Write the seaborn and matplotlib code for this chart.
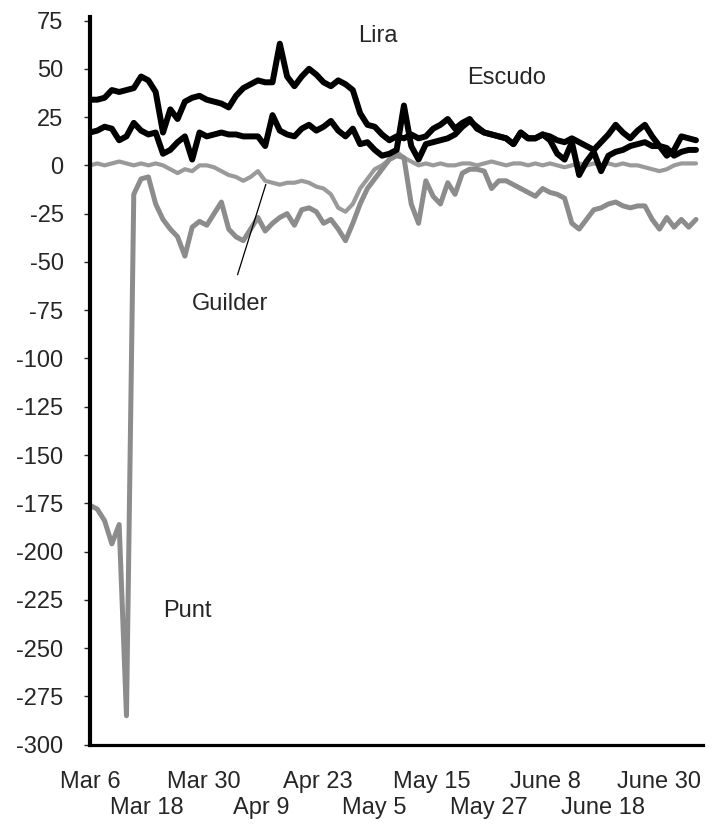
import numpy as np
import pandas as pd
import seaborn as sns
import matplotlib
import matplotlib.pyplot as plt

matplotlib.use('Agg')

# trading-day labels, roughly one every 8 days, in two staggered rows
tick_labels = ['Mar 6', 'Mar 18', 'Mar 30', 'Apr 9', 'Apr 23', 'May 5',
               'May 15', 'May 27', 'June 8', 'June 18', 'June 30']

lira = [34, 34, 35, 39, 38, 39, 40, 46, 44, 38, 17, 29, 24, 33, 35, 36, 34, 33, 32, 30,
        36, 40, 42, 44, 43, 43, 63, 46, 41, 46, 50, 47, 43, 41, 44, 42, 39, 27, 21, 20,
        16, 13, 15, 14, 16, 14, 15, 19, 21, 24, 19, 22, 24, 19, 17, 16, 15, 14, 11, 17,
        14, 14, 16, 15, 13, 12, 14, 12, 10, 8, 12, 16, 21, 17, 14, 18, 21, 15, 10, 5,
        8, 15, 14, 13]

escudo = [17, 18, 20, 19, 13, 15, 22, 18, 16, 17, 6, 8, 12, 15, 3, 17, 15, 16, 17, 16,
          16, 15, 15, 15, 10, 26, 18, 16, 15, 19, 21, 18, 20, 23, 18, 15, 19, 11, 12, 8,
          5, 6, 8, 31, 10, 3, 11, 12, 13, 14, 16, 20, 23, 20, 17, 16, 15, 14, 11, 17,
          14, 14, 16, 13, 6, 3, 12, -5, 2, 7, -3, 5, 7, 8, 10, 11, 12, 10, 10, 9,
          5, 7, 8, 8]

guilder = [0, 1, 0, 1, 2, 1, 0, 1, 0, 1, 0, -2, -4, -2, -3, 0, 0, -1, -3, -5,
           -6, -8, -6, -3, -8, -9, -10, -9, -9, -8, -9, -11, -12, -15, -22, -24, -20, -12, -7, -2,
           0, 3, 7, 4, 2, 0, 1, 0, 1, 0, 0, 1, 1, 0, 1, 2, 1, 0, 1, 1,
           0, 1, 0, 1, 0, -1, 0, 1, 0, 1, 0, 1, 0, 1, 0, 0, -1, -2, -3, -2,
           0, 1, 1, 1]

punt = [-176, -178, -184, -196, -186, -285, -15, -7, -6, -20, -28, -33, -37, -47, -32, -29, -31, -25, -19, -33,
        -37, -39, -33, -27, -34, -30, -27, -25, -31, -23, -22, -24, -30, -28, -33, -39, -30, -20, -12, -7,
        -2, 3, 5, 4, -20, -30, -8, -16, -20, -9, -15, -4, -2, -2, -3, -12, -8, -8, -10, -12,
        -14, -16, -12, -14, -15, -17, -30, -33, -28, -23, -22, -20, -19, -21, -22, -21, -21, -28, -33, -27,
        -32, -28, -32, -28]

day = np.arange(len(lira))

sns.set_style('white')
plt.rcParams['font.family'] = ['Liberation Sans', 'DejaVu Sans']
plt.rcParams['axes.unicode_minus'] = False

fig = plt.figure(figsize=(7.14, 8.33), dpi=100)
ax = fig.add_axes([0.126, 0.106, 0.859, 0.874])

# gray series first so the black ones sit on top
sns.lineplot(x=day, y=guilder, color='#9a9a9a', linewidth=3.0, ax=ax)
sns.lineplot(x=day, y=punt, color='#8c8c8c', linewidth=3.6, ax=ax)
sns.lineplot(x=day, y=escudo, color='black', linewidth=4.3, ax=ax)
sns.lineplot(x=day, y=lira, color='black', linewidth=4.3, ax=ax)

ax.set_xlim(0, 84)
ax.set_ylim(-300, 77)
ax.set_yticks(np.arange(-300, 76, 25))

xt = np.arange(len(tick_labels)) * 7.8
ax.set_xticks(xt[0::2], tick_labels[0::2])
ax.set_xticks(xt[1::2], tick_labels[1::2], minor=True)

ax.tick_params(axis='x', which='major', length=0, pad=19, labelsize=17)
ax.tick_params(axis='x', which='minor', length=0, pad=38, labelsize=17)
ax.tick_params(axis='y', length=4, width=1, direction='out', pad=15, labelsize=17, left=True)

for s in ['top', 'right']:
    ax.spines[s].set_visible(False)
ax.spines['left'].set_linewidth(3)
ax.spines['bottom'].set_linewidth(2.3)
ax.spines['left'].set_color('black')
ax.spines['bottom'].set_color('black')

ax.text(39.5, 67, 'Lira', fontsize=17, ha='center', va='center')
ax.text(57.1, 45, 'Escudo', fontsize=17, ha='center', va='center')
ax.text(19.2, -72, 'Guilder', fontsize=17, ha='center', va='center')
ax.text(13.4, -231, 'Punt', fontsize=17, ha='center', va='center')
ax.annotate('', xy=(24.2, -8.5), xytext=(20.1, -58),
            arrowprops=dict(arrowstyle='-', lw=0.9, color='black'))

ax.set_xlabel('')
ax.set_ylabel('')
fig.savefig('out.png', dpi=100, facecolor='white')
